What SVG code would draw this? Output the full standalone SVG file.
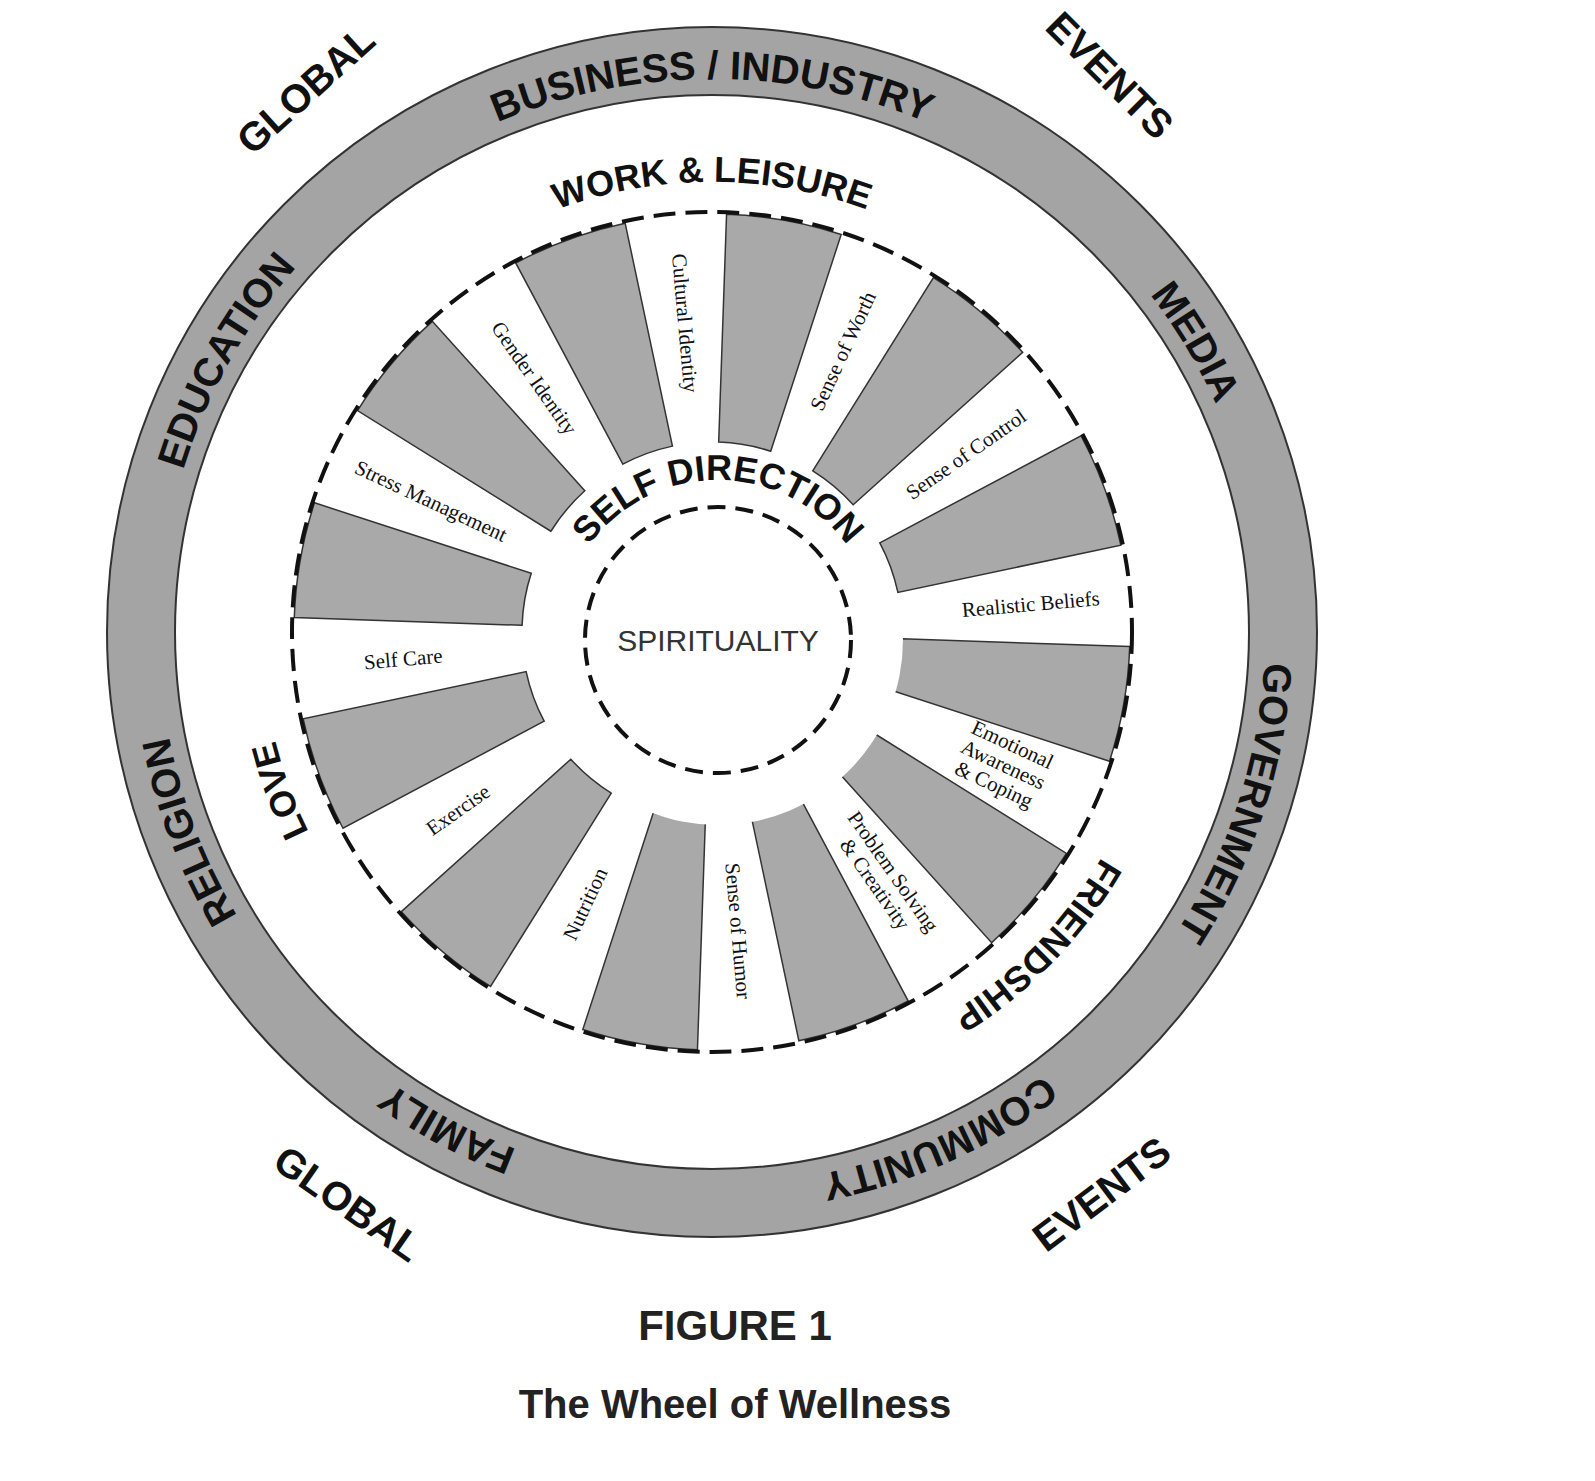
<svg xmlns="http://www.w3.org/2000/svg" xmlns:xlink="http://www.w3.org/1999/xlink" width="1595" height="1481" viewBox="0 0 1595 1481">
<style>
.ring{font-family:"Liberation Sans",Arial,sans-serif;font-weight:bold;font-size:40px;fill:#111}
.band{font-family:"Liberation Sans",Arial,sans-serif;font-weight:bold;font-size:36px;fill:#111}
.sp{font-family:"Liberation Serif","Times New Roman",serif;font-size:21px;fill:#111}
.cap{font-family:"Liberation Sans",Arial,sans-serif;font-weight:bold;fill:#222;text-anchor:middle}
.wedge{fill:#a9a9a9;stroke:#333;stroke-width:1.5}
</style>
<defs>
<path id="w" class="wedge" d="M188.2,-26.4 L413.9,-58.2 A418 418 0 0 1 413.9,58.2 L188.2,26.4 A190 190 0 0 0 188.2,-26.4Z"/>
<path id="p1" d="M159,632 A553 553 0 1 1 1265,632 A553 553 0 1 1 159,632"/>
<path id="p2" d="M262,632 A450 450 0 1 1 1162,632 A450 450 0 1 1 262,632"/>
<path id="p3" d="M558,640 A160 160 0 1 1 878,640 A160 160 0 1 1 558,640"/>
</defs>
<rect width="1595" height="1481" fill="#fff"/>
<g id="outer-ring">
<circle cx="712" cy="632" r="571" fill="none" stroke="#a4a4a4" stroke-width="68"/>
<circle cx="712" cy="632" r="605" fill="none" stroke="#333" stroke-width="2"/>
<circle cx="712" cy="632" r="537" fill="none" stroke="#333" stroke-width="2"/>
<text class="ring"><textPath href="#p1" startOffset="25%" text-anchor="middle">BUSINESS / INDUSTRY</textPath></text>
<text class="ring"><textPath href="#p1" startOffset="8.1%" text-anchor="middle">EDUCATION</textPath></text>
<text class="ring"><textPath href="#p1" startOffset="41.4%" text-anchor="middle">MEDIA</textPath></text>
<text class="ring"><textPath href="#p1" startOffset="55%" text-anchor="middle">GOVERNMENT</textPath></text>
<text class="ring"><textPath href="#p1" startOffset="68.3%" text-anchor="middle">COMMUNITY</textPath></text>
<text class="ring"><textPath href="#p1" startOffset="82.8%" text-anchor="middle">FAMILY</textPath></text>
<text class="ring"><textPath href="#p1" startOffset="94.2%" text-anchor="middle">RELIGION</textPath></text>
</g>
<g id="band">
<text class="band"><textPath href="#p2" startOffset="25%" text-anchor="middle">WORK &amp; LEISURE</textPath></text>
<text class="band"><textPath href="#p2" startOffset="94.4%" text-anchor="middle">LOVE</textPath></text>
<text class="band"><textPath href="#p2" startOffset="62.2%" text-anchor="middle">FRIENDSHIP</textPath></text>
</g>
<g id="spokes">
<g transform="translate(712,632)">
<use href="#w" transform="rotate(10)"/><use href="#w" transform="rotate(40)"/><use href="#w" transform="rotate(70)"/>
<use href="#w" transform="rotate(100)"/><use href="#w" transform="rotate(130)"/><use href="#w" transform="rotate(160)"/>
<use href="#w" transform="rotate(190)"/><use href="#w" transform="rotate(220)"/><use href="#w" transform="rotate(250)"/>
<use href="#w" transform="rotate(280)"/><use href="#w" transform="rotate(310)"/><use href="#w" transform="rotate(340)"/>
</g>
<circle cx="712" cy="632" r="420" fill="none" stroke="#111" stroke-width="4" stroke-dasharray="22 10"/>
<g transform="translate(712,632)" text-anchor="middle">
<text class="sp" transform="rotate(-5) translate(320,7)">Realistic Beliefs</text>
<text class="sp" transform="rotate(25) translate(320,-18)"><tspan x="0">Emotional</tspan><tspan x="0" dy="22">Awareness</tspan><tspan x="0" dy="22">&amp; Coping</tspan></text>
<text class="sp" transform="rotate(55) translate(300,-4)"><tspan x="0">Problem Solving</tspan><tspan x="0" dy="22">&amp; Creativity</tspan></text>
<text class="sp" transform="rotate(85) translate(300,7)">Sense of Humor</text>
<text class="sp" transform="rotate(115) translate(300,0) rotate(180) translate(0,7)">Nutrition</text>
<text class="sp" transform="rotate(145) translate(310,0) rotate(180) translate(0,7)">Exercise</text>
<text class="sp" transform="rotate(175) translate(310,0) rotate(180) translate(0,7)">Self Care</text>
<text class="sp" transform="rotate(205) translate(310,0) rotate(180) translate(0,7)">Stress Management</text>
<text class="sp" transform="rotate(235) translate(310,0) rotate(180) translate(0,7)">Gender Identity</text>
<text class="sp" transform="rotate(265) translate(310,0) rotate(180) translate(0,7)">Cultural Identity</text>
<text class="sp" transform="rotate(295) translate(310,7)">Sense of Worth</text>
<text class="sp" transform="rotate(325) translate(310,7)">Sense of Control</text>
</g>
</g>
<g id="center">
<circle cx="718" cy="640" r="185" fill="#fff"/>
<circle cx="718" cy="640" r="133" fill="#fff" stroke="#111" stroke-width="4" stroke-dasharray="18 10"/>
<text x="718" y="651" text-anchor="middle" font-family="Liberation Sans, Arial, sans-serif" font-size="30" fill="#333">SPIRITUALITY</text>
<text class="band"><textPath href="#p3" startOffset="25%" text-anchor="middle">SELF DIRECTION</textPath></text>
</g>
<g id="outside">
<text class="ring" transform="translate(315,100) rotate(-42)" text-anchor="middle">GLOBAL</text>
<text class="ring" transform="translate(1100,85) rotate(45)" text-anchor="middle">EVENTS</text>
<text class="ring" transform="translate(340,1215) rotate(35)" text-anchor="middle">GLOBAL</text>
<text class="ring" transform="translate(1110,1205) rotate(-37)" text-anchor="middle">EVENTS</text>
</g>
<g id="caption">
<text class="cap" x="735" y="1340" font-size="42">FIGURE 1</text>
<text class="cap" x="735" y="1418" font-size="40">The Wheel of Wellness</text>
</g>
</svg>
